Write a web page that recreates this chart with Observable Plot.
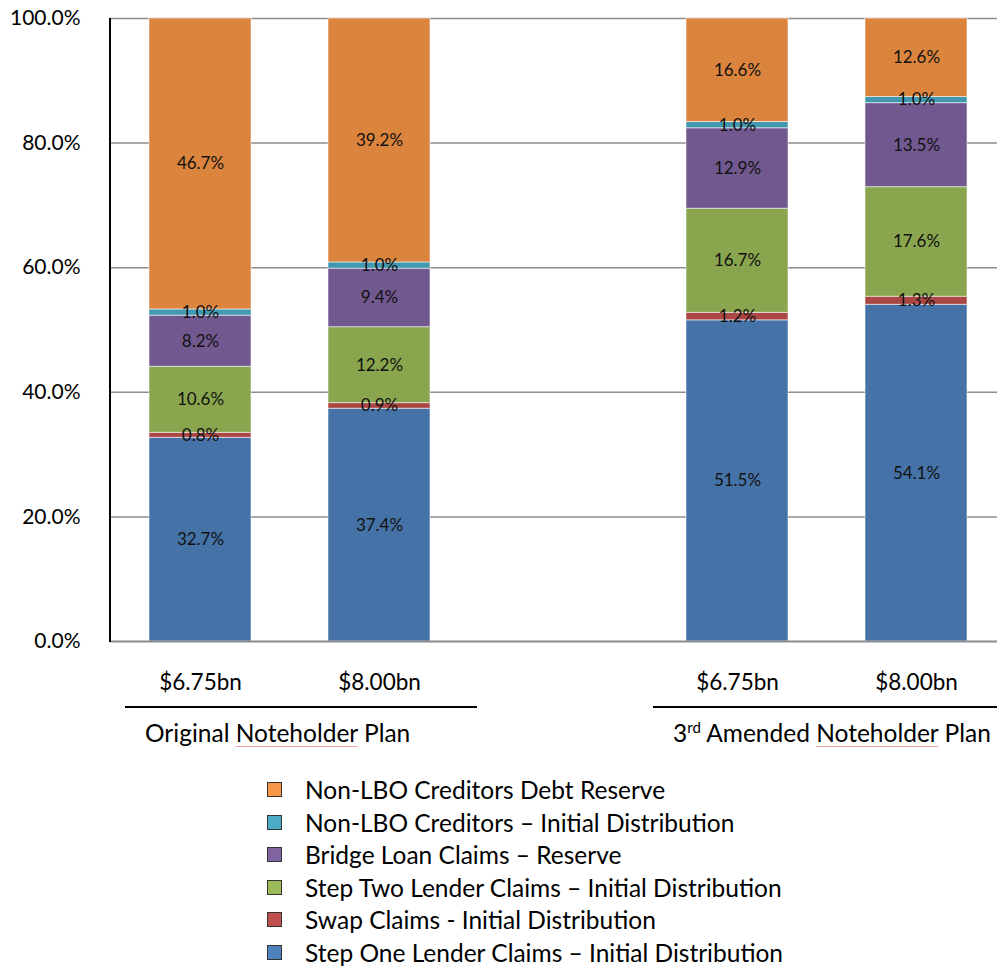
<!DOCTYPE html>
<html>
<head>
<meta charset="utf-8">
<script src="https://cdn.jsdelivr.net/npm/d3@7"></script>
<script src="https://cdn.jsdelivr.net/npm/@observablehq/plot@0.6"></script>
<style>
  html, body { margin: 0; padding: 0; background: #fff; }
  body { font-family: Lato, "Liberation Sans", sans-serif; color: #000; }
  #wrap { position: relative; width: 997px; height: 967px; overflow: hidden; }
  .gline { position: absolute; height: 2px; background: #000; top: 706px; }
  .glabel { position: absolute; top: 718px; font-size: 24.5px; line-height: 30px; white-space: nowrap; }
  .glabel sup { font-size: 15px; vertical-align: 0; position: relative; top: -9px; }
  .spell { text-decoration: underline; text-decoration-color: #f3a1a1; text-decoration-thickness: 1px; text-underline-offset: 4px; }
  #legend { position: absolute; left: 267px; top: 773.2px; }
  .li { height: 32.6px; display: flex; align-items: center; font-size: 24.5px; white-space: nowrap; }
  .sw { width: 13px; height: 13px; border: 1.5px solid #333; margin-right: 23px; flex: none; }
</style>
</head>
<body>
<div id="wrap"></div>
<script>
// ---- data ----
const bars = ["Orig-6.75", "Orig-8.00", "gap", "3rd-6.75", "3rd-8.00"];
const barTickLabels = ["$6.75bn", "$8.00bn", "", "$6.75bn", "$8.00bn"];
const dataBars = ["Orig-6.75", "Orig-8.00", "3rd-6.75", "3rd-8.00"];
const seriesNames = [
  "Step One Lender Claims – Initial Distribution",
  "Swap Claims - Initial Distribution",
  "Step Two Lender Claims – Initial Distribution",
  "Bridge Loan Claims – Reserve",
  "Non-LBO Creditors – Initial Distribution",
  "Non-LBO Creditors Debt Reserve"
];
const stepOne   = [32.7, 37.4, 51.5, 54.1];
const swap      = [0.8, 0.9, 1.2, 1.3];
const stepTwo   = [10.6, 12.2, 16.7, 17.6];
const bridge    = [8.2, 9.4, 12.9, 13.5];
const nonLboIni = [1.0, 1.0, 1.0, 1.0];
const nonLboRes = [46.7, 39.2, 16.6, 12.6];
const seriesValues = [stepOne, swap, stepTwo, bridge, nonLboIni, nonLboRes];
const barColors = ["#4673a7", "#aa4643", "#89a54e", "#71588f", "#4198af", "#db843d"];
const legendColors = ["#4f81bd", "#c0504d", "#9bbb59", "#8064a2", "#4bacc6", "#f79646"];
const yTicks = [0, 0.2, 0.4, 0.6, 0.8, 1.0];

// ---- table ----
const table = [];
seriesNames.forEach((s, i) => {
  dataBars.forEach((b, j) => table.push({bar: b, series: s, value: seriesValues[i][j]}));
});

const chart = Plot.plot({
  width: 997,
  height: 760,
  marginLeft: 110,
  marginRight: 0,
  marginTop: 18,
  marginBottom: 119,
  style: {fontFamily: "Lato, 'Liberation Sans', sans-serif", background: "#fff", color: "#000"},
  x: {domain: bars, range: [110, 1007], paddingInner: 0.43, paddingOuter: 0.215, label: null},
  y: {domain: [0, 1], label: null},
  color: {domain: seriesNames, range: barColors},
  marks: [
    Plot.ruleY(yTicks.slice(1), {stroke: "#8c8c8c", strokeWidth: 1.5}),
    Plot.barY(table, Plot.stackY({x: "bar", y: "value", fill: "series", offset: "normalize", stroke: "#fff", strokeOpacity: 0.55, strokeWidth: 1})),
    Plot.text(table, Plot.stackY({x: "bar", y: "value", z: "series", offset: "normalize", text: d => d.value.toFixed(1) + "%", fill: "#111", fontSize: 17})),
    Plot.ruleY([0], {stroke: "#8c8c8c", strokeWidth: 2}),
    Plot.axisY({ticks: yTicks, tickSize: 0, tickPadding: 30, tickFormat: d => (d * 100).toFixed(1) + "%", fontSize: 21, label: null}),
    Plot.axisX({tickSize: 0, tickPadding: 33, tickFormat: d => barTickLabels[bars.indexOf(d)], fontSize: 22.5, label: null})
  ]
});

const wrap = document.getElementById("wrap");
wrap.appendChild(chart);

// left axis line
const ys = chart.scale("y");
d3.select(chart).append("line")
  .attr("x1", 110).attr("x2", 110)
  .attr("y1", ys.apply(1)).attr("y2", ys.apply(0) + 1)
  .attr("stroke", "#000").attr("stroke-width", 2);

// group lines and labels
const l1 = document.createElement("div"); l1.className = "gline"; l1.style.left = "125px"; l1.style.width = "352px"; wrap.appendChild(l1);
const l2 = document.createElement("div"); l2.className = "gline"; l2.style.left = "653px"; l2.style.width = "344px"; wrap.appendChild(l2);
const g1 = document.createElement("div"); g1.className = "glabel"; g1.style.left = "145px";
g1.innerHTML = 'Original <span class="spell">Noteholder</span> Plan'; wrap.appendChild(g1);
const g2 = document.createElement("div"); g2.className = "glabel"; g2.style.left = "673px";
g2.innerHTML = '3<sup>rd</sup> Amended <span class="spell">Noteholder</span> Plan'; wrap.appendChild(g2);

// legend
const lg = document.createElement("div"); lg.id = "legend";
for (let i = seriesNames.length - 1; i >= 0; i--) {
  const row = document.createElement("div"); row.className = "li";
  const sw = document.createElement("span"); sw.className = "sw"; sw.style.background = legendColors[i];
  const tx = document.createElement("span"); tx.textContent = seriesNames[i];
  row.appendChild(sw); row.appendChild(tx); lg.appendChild(row);
}
wrap.appendChild(lg);
</script>
</body>
</html>
